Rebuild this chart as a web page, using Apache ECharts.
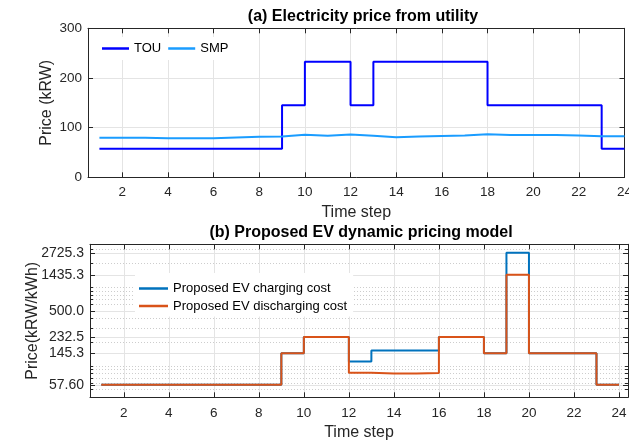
<!DOCTYPE html>
<html><head><meta charset="utf-8">
<script src="https://cdn.jsdelivr.net/npm/echarts@6/dist/echarts.min.js"></script>
<style>html,body{margin:0;padding:0;background:#fff}#c{width:629px;height:443px}</style>
</head><body><div id="c"></div>
<script>
// ---- data ----
const timeSteps = [1,2,3,4,5,6,7,8,9,10,11,12,13,14,15,16,17,18,19,20,21,22,23,24];
const xTickValues = [2,4,6,8,10,12,14,16,18,20,22,24];
const touPrice = [57.6,57.6,57.6,57.6,57.6,57.6,57.6,57.6,145.3,232.5,232.5,145.3,232.5,232.5,232.5,232.5,232.5,145.3,145.3,145.3,145.3,145.3,57.6,57.6];
const smpPrice = [79.7,79.7,78.5,78.5,78.5,80.0,81.5,82.0,85.5,83.5,86.0,83.5,80.5,82.0,83.0,84.0,86.5,85.0,85.0,85.0,84.0,82.5,82.5,82.5];
const chargingCost = [57.6,57.6,57.6,57.6,57.6,57.6,57.6,57.6,145.3,232.5,232.5,114,157,157,157,232.5,232.5,145.3,2725.3,145.3,145.3,145.3,57.6,57.6];
const dischargingCost = [57.6,57.6,57.6,57.6,57.6,57.6,57.6,57.6,145.3,232.5,232.5,82,80,80,81.5,232.5,232.5,145.3,1435.3,145.3,145.3,145.3,57.6,57.6];
const priceTickValues = [0,100,200,300];
const costTickValues = [57.6,145.3,232.5,500,1435.3,2725.3];
const costTickLabels = ['57.60','145.3','232.5','500.0','1435.3','2725.3'];
const costMinorTicks = [50,60,70,80,90,100,200,300,400,600,700,800,900,1000,2000,3000];
const seriesNames = ['TOU','SMP','Proposed EV charging cost','Proposed EV discharging cost'];

// ---- chart ----
const FONT = '"Liberation Sans", Arial, Helvetica, sans-serif';
const AX = '#262626';
const GRIDC = '#e4e4e4';
const pairs = arr => timeSteps.map((t, i) => [t, arr[i]]);

function xAxisCfg(gi, max, top, name) {
  return {
    type: 'value', gridIndex: gi, min: 0.5, max: max,
    position: top ? 'top' : 'bottom',
    name: top ? '' : name, nameLocation: 'middle', nameGap: 27, nameMoveOverlap: false,
    nameTextStyle: { fontFamily: FONT, fontSize: 16, color: AX },
    axisLine: { show: true, onZero: false, lineStyle: { color: AX, width: 1 } },
    axisTick: { show: true, inside: true, length: 5, customValues: xTickValues, lineStyle: { color: AX } },
    axisLabel: { show: !top, customValues: xTickValues, margin: gi === 0 ? 8 : 9, fontFamily: FONT, fontSize: 13.5, color: AX },
    splitLine: { show: !top, lineStyle: { color: GRIDC, width: 1 } }
  };
}

const option = {
  animation: false,
  backgroundColor: '#fff',
  grid: [
    { left: 88, right: 4.5, top: 28.3, height: 149, outerBoundsMode: 'none' },
    { left: 90, right: 1, top: 244.3, height: 153, outerBoundsMode: 'none' }
  ],
  graphic: [
    { type: 'text', x: 363, y: 17, style: { text: '(a) Electricity price from utility', font: 'bold 16px ' + FONT, fill: '#000', textAlign: 'center', textVerticalAlign: 'middle' } },
    { type: 'text', x: 361, y: 233, style: { text: '(b) Proposed EV dynamic pricing model', font: 'bold 16px ' + FONT, fill: '#000', textAlign: 'center', textVerticalAlign: 'middle' } }
  ],
  legend: [
    { data: seriesNames.slice(0, 2), left: 96, top: 37, orient: 'horizontal', backgroundColor: '#fff',
      icon: 'rect', padding: [5, 8, 5, 6], itemWidth: 27, itemHeight: 2.5, itemGap: 7, selectedMode: false,
      textStyle: { fontFamily: FONT, fontSize: 13, color: '#000' } },
    { data: seriesNames.slice(2, 4), left: 135, top: 273, orient: 'vertical', backgroundColor: '#fff',
      icon: 'rect', padding: [9, 6, 4, 4], itemWidth: 29, itemHeight: 2.5, itemGap: 4.5, selectedMode: false,
      textStyle: { fontFamily: FONT, fontSize: 13, color: '#000' } }
  ],
  xAxis: [
    xAxisCfg(0, 24, false, 'Time step'),
    xAxisCfg(0, 24, true),
    xAxisCfg(1, 24.4, false, 'Time step'),
    xAxisCfg(1, 24.4, true)
  ],
  yAxis: [
    { type: 'value', gridIndex: 0, min: 0, max: 300, interval: 100, position: 'left',
      name: 'Price (kRW)', nameLocation: 'middle', nameGap: 33, nameMoveOverlap: false,
      nameTextStyle: { fontFamily: FONT, fontSize: 16, color: AX },
      axisLine: { show: true, lineStyle: { color: AX } },
      axisTick: { show: true, inside: true, length: 5, lineStyle: { color: AX } },
      axisLabel: { margin: 6, fontFamily: FONT, fontSize: 13.5, color: AX },
      splitLine: { show: true, lineStyle: { color: GRIDC } } },
    { type: 'value', gridIndex: 0, min: 0, max: 300, interval: 100, position: 'right',
      axisLine: { show: true, lineStyle: { color: AX } },
      axisTick: { show: true, inside: true, length: 5, lineStyle: { color: AX } },
      axisLabel: { show: false }, splitLine: { show: false } },
    { type: 'log', logBase: 10, gridIndex: 1, min: 40, max: 3500, position: 'left',
      name: 'Price(kRW/kWh)', nameLocation: 'middle', nameGap: 49, nameMoveOverlap: false,
      nameTextStyle: { fontFamily: FONT, fontSize: 16, color: AX },
      axisLine: { show: true, lineStyle: { color: AX } },
      axisTick: { show: true, inside: true, length: 5, customValues: costTickValues, lineStyle: { color: AX } },
      axisLabel: { margin: 6, fontFamily: FONT, fontSize: 14, color: AX, customValues: costTickValues,
        formatter: v => {
          let best = 0;
          costTickValues.forEach((t, i) => { if (Math.abs(t - v) < Math.abs(costTickValues[best] - v)) best = i; });
          return costTickLabels[best];
        } },
      splitLine: { show: true, lineStyle: { color: GRIDC } } },
    { type: 'log', logBase: 10, gridIndex: 1, min: 40, max: 3500, position: 'left',
      axisLine: { show: false },
      axisTick: { show: true, inside: true, length: 3, customValues: costMinorTicks, lineStyle: { color: AX } },
      axisLabel: { show: false, customValues: costMinorTicks },
      splitLine: { show: true, lineStyle: { color: '#cdcdcd', type: [1, 2], width: 1 } } },
    { type: 'log', logBase: 10, gridIndex: 1, min: 40, max: 3500, position: 'right',
      axisLine: { show: true, lineStyle: { color: AX } },
      axisTick: { show: true, inside: true, length: 5, customValues: costTickValues, lineStyle: { color: AX } },
      axisLabel: { show: false, customValues: costTickValues }, splitLine: { show: false } },
    { type: 'log', logBase: 10, gridIndex: 1, min: 40, max: 3500, position: 'right',
      axisLine: { show: false },
      axisTick: { show: true, inside: true, length: 3, customValues: costMinorTicks, lineStyle: { color: AX } },
      axisLabel: { show: false, customValues: costMinorTicks }, splitLine: { show: false } }
  ],
  series: [
    { name: seriesNames[0], type: 'line', step: 'end', xAxisIndex: 0, yAxisIndex: 0, data: pairs(touPrice),
      symbol: 'none', color: '#0000ff', lineStyle: { width: 2, color: '#0000ff' } },
    { name: seriesNames[1], type: 'line', step: 'end', xAxisIndex: 0, yAxisIndex: 0, data: pairs(smpPrice),
      symbol: 'none', color: '#1a9cff', lineStyle: { width: 2, color: '#1a9cff' } },
    { name: seriesNames[2], type: 'line', step: 'end', xAxisIndex: 2, yAxisIndex: 2, data: pairs(chargingCost),
      symbol: 'none', color: '#0072bd', lineStyle: { width: 2, color: '#0072bd' } },
    { name: seriesNames[3], type: 'line', step: 'end', xAxisIndex: 2, yAxisIndex: 2, data: pairs(dischargingCost),
      symbol: 'none', color: '#d95319', lineStyle: { width: 2, color: '#d95319' } }
  ]
};
const chart = echarts.init(document.getElementById('c'), null, { renderer: 'canvas' });
chart.setOption(option);
</script>
</body></html>
